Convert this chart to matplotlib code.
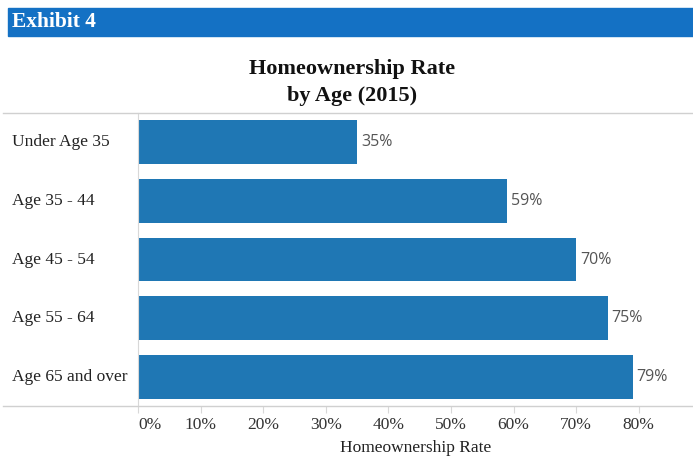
import matplotlib.pyplot as plt
from matplotlib.lines import Line2D
from matplotlib.patches import Rectangle

categories = ["Under Age 35", "Age 35 - 44", "Age 45 - 54", "Age 55 - 64", "Age 65 and over"]
rates = [35, 59, 70, 75, 79]
ticks = [0, 10, 20, 30, 40, 50, 60, 70, 80]
tick_labels = [f"{t}%" for t in ticks]

W, H = 693, 458
fig = plt.figure(figsize=(W / 100, H / 100), dpi=100)
serif = "Liberation Serif"

# header band
fig.patches.append(Rectangle((8 / W, 1 - 36 / H), 1 - 8 / W, 28 / H,
                             transform=fig.transFigure, color="#1471c4", zorder=0))
fig.text(12 / W, 1 - 22 / H, "Exhibit 4", color="white", fontsize=15.5,
         fontweight="bold", family=serif, va="center", ha="left")

fig.text(352 / W, 1 - 69 / H, "Homeownership Rate", fontsize=16, fontweight="bold",
         family=serif, ha="center", va="center", color="#111111")
fig.text(352 / W, 1 - 96 / H, "by Age (2015)", fontsize=16, fontweight="bold",
         family=serif, ha="center", va="center", color="#111111")

ax = fig.add_axes([138 / W, (H - 406) / H, (W - 138) / W, 293 / H])
y = list(range(len(categories)))
ax.barh(y, rates, height=0.75, color="#1f77b4")
ax.set_ylim(len(categories) - 0.5, -0.5)
ax.set_xlim(0, (W - 138) / 6.26)

for yi, r in zip(y, rates):
    ax.text(r + 0.6, yi, f"{r}%", va="center", ha="left", fontsize=11.5,
            family="Open Sans", color="#555555")

ax.set_yticks(y)
ax.set_yticklabels([])
for yi, c in zip(y, categories):
    ax.text(-126 / 6.26, yi, c, va="center", ha="left", fontsize=12.5,
            family=serif, color="#222222")

ax.set_xticks(ticks)
ax.set_xticklabels(tick_labels, family=serif, fontsize=12.5, color="#333333")
ax.get_xticklabels()[0].set_horizontalalignment("left")
ax.tick_params(axis="x", length=5, color="#d8d8d8", pad=3)
ax.tick_params(axis="y", length=0)
ax.set_xlabel("Homeownership Rate", family=serif, fontsize=12.5, color="#222222", labelpad=5)

for s in ["top", "right", "bottom"]:
    ax.spines[s].set_visible(False)
ax.spines["left"].set_color("#d8d8d8")

# table borders across the whole width
for yy in (113, 406):
    fig.add_artist(Line2D([3 / W, 1], [1 - yy / H, 1 - yy / H], transform=fig.transFigure,
                          color="#d0d0d0", lw=1))

fig.savefig("out.png", dpi=100)
